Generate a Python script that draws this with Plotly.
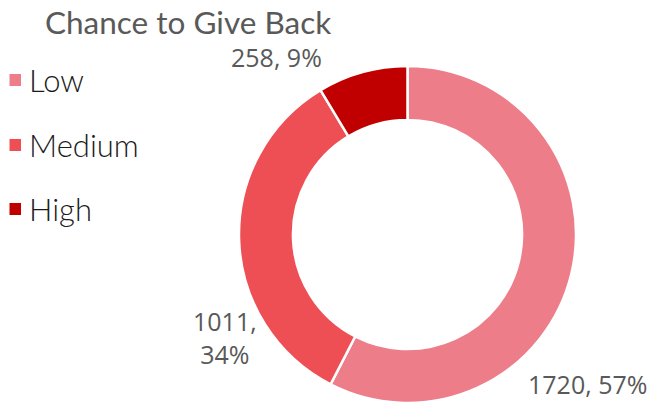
import plotly.graph_objects as go

# Donut data: count of records per "chance to give back" level
levels = ["Low", "Medium", "High"]
counts = [1720, 1011, 258]
pct_labels = ["57%", "34%", "9%"]
colors = ["#EE7D8A", "#EE4F55", "#C00000"]

W, H = 652, 405

fig = go.Figure(
    go.Pie(
        labels=levels,
        values=counts,
        hole=0.68,
        sort=False,
        direction="clockwise",
        rotation=0,
        marker=dict(colors=colors, line=dict(color="white", width=2.5)),
        textinfo="none",
        hoverinfo="label+value+percent",
        showlegend=False,
        domain=dict(x=[239 / W, 576 / W], y=[(H - 403) / H, (H - 66) / H]),
    )
)

label_font = dict(family="Open Sans", size=25, color="#595959")

# Data labels "count, percent" around the ring
label_pos = {
    "Low": (587 / W, (H - 384) / H, "{c}, {p}"),
    "Medium": (225 / W, (H - 337) / H, "{c},<br>{p}"),
    "High": (276 / W, (H - 57) / H, "{c}, {p}"),
}
annotations = []
for lvl, c, p in zip(levels, counts, pct_labels):
    x, y, fmt = label_pos[lvl]
    annotations.append(
        dict(x=x, y=y, xref="paper", yref="paper", xanchor="center", yanchor="middle",
             text=fmt.format(c=c, p=p), showarrow=False, font=label_font, align="center")
    )

# Title
annotations.append(
    dict(x=43 / W, y=(H - 22) / H, xref="paper", yref="paper", xanchor="left", yanchor="middle",
         text="Chance to Give Back", showarrow=False,
         font=dict(family="Lato", size=31.5, color="#595959"))
)

# Legend drawn as colored squares plus text
legend_rows = [80, 145, 209]
shapes = []
for lvl, col, yc in zip(levels, colors, legend_rows):
    shapes.append(dict(type="rect", xref="paper", yref="paper",
                       x0=9.5 / W, x1=21 / W, y0=(H - yc - 6) / H, y1=(H - yc + 6) / H,
                       fillcolor=col, line=dict(width=0)))
    annotations.append(
        dict(x=27 / W, y=(H - yc) / H, xref="paper", yref="paper", xanchor="left", yanchor="middle",
             text=lvl, showarrow=False,
             font=dict(family="Lato", size=31, weight=300, color="#1a1a1a"))
    )

fig.update_layout(
    width=W, height=H,
    margin=dict(l=0, r=0, t=0, b=0),
    paper_bgcolor="white", plot_bgcolor="white",
    annotations=annotations, shapes=shapes,
)

fig.write_html("out.html")
